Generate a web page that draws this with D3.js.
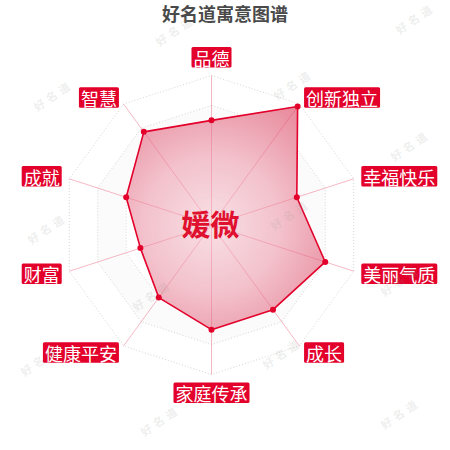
<!DOCTYPE html>
<html><head><meta charset="utf-8">
<script src="https://cdn.jsdelivr.net/npm/d3@7/dist/d3.min.js"></script>
<style>html,body{margin:0;padding:0;background:#fff;}svg{display:block;}</style>
</head><body><div id="chart"></div>
<script>
const indicators = ['品德','创新独立','幸福快乐','美丽气质','成长','家庭传承','健康平安','财富','成就','智慧'];
const values = [70, 98, 60, 80, 70, 70, 60, 50, 60, 77];
const maxValue = 100;
const levels = [20, 40, 60, 80, 100];
const titleText = '好名道寓意图谱';
const nameText = '媛微';
const watermarkText = '好名道';
const watermarkSpots = [[175,30],[415,18],[293,84],[53,95],[410,145],[47,228],[290,214],[400,280],[152,295],[40,360],[282,353],[160,420],[400,413]];

const W = 450, H = 450;
const cx = 211.5, cy = 225, R = 149.5;
const font = "'Noto Sans CJK SC','Noto Sans',sans-serif";
const svg = d3.select('#chart').append('svg').attr('width', W).attr('height', H);

const r = d3.scaleLinear().domain([0, maxValue]).range([0, R]);
const angle = d3.scaleLinear().domain([0, indicators.length]).range([0, 2 * Math.PI]);
const pt = (i, v) => [cx + r(v) * Math.sin(angle(i)), cy - r(v) * Math.cos(angle(i))];

const defs = svg.append('defs');
const grad = defs.append('radialGradient').attr('id', 'areaGrad')
  .attr('gradientUnits', 'userSpaceOnUse').attr('cx', cx).attr('cy', cy).attr('r', R);
grad.append('stop').attr('offset', '0%').attr('stop-color', '#f8dde3');
grad.append('stop').attr('offset', '45%').attr('stop-color', '#f2bdc8');
grad.append('stop').attr('offset', '100%').attr('stop-color', '#e57b90');

// split areas
const ring = (v) => indicators.map((d, i) => pt(i, v));
const lineGen = d3.line().curve(d3.curveLinearClosed);
levels.forEach((lv, k) => {
  if (k % 2 === 1) {
    const outer = ring(lv), inner = ring(levels[k - 1]);
    svg.append('path')
      .attr('d', lineGen(outer) + lineGen(inner.slice().reverse()))
      .attr('fill', 'rgba(200,200,200,0.08)').attr('fill-rule', 'evenodd');
  }
});
// grid
levels.forEach(lv => {
  svg.append('path').attr('d', lineGen(ring(lv)))
    .attr('fill', 'none').attr('stroke', '#d6d6d6').attr('stroke-width', 1)
    .attr('stroke-dasharray', '1,2');
});
// axes
indicators.forEach((d, i) => {
  const [x, y] = pt(i, maxValue);
  svg.append('line').attr('x1', cx).attr('y1', cy).attr('x2', x).attr('y2', y)
    .attr('stroke', 'rgba(228,0,43,0.28)').attr('stroke-width', 1);
});

// area
const dataPts = values.map((v, i) => pt(i, v));
svg.append('path').attr('d', lineGen(dataPts))
  .attr('fill', 'url(#areaGrad)').attr('fill-opacity', 0.92)
  .attr('stroke', '#e3002b').attr('stroke-width', 1.6).attr('stroke-linejoin', 'round');
indicators.forEach((d, i) => {
  const [x, y] = pt(i, values[i]);
  svg.append('line').attr('x1', cx).attr('y1', cy).attr('x2', x).attr('y2', y)
    .attr('stroke', 'rgba(228,0,43,0.15)').attr('stroke-width', 1);
});
svg.selectAll('circle.pt').data(values).enter().append('circle')
  .attr('class', 'pt')
  .attr('cx', (v, i) => pt(i, v)[0]).attr('cy', (v, i) => pt(i, v)[1])
  .attr('r', 3).attr('fill', '#e3002b');

// indicator labels
const fs = 18, padX = 2, boxH = 20.5;
indicators.forEach((name, i) => {
  const a = angle(i);
  const s = Math.sin(a), c = Math.cos(a);
  const px = cx + (R + 8) * s, py = cy - (R + 8) * c;
  const bw = name.length * fs + padX * 2;
  let bx, by;
  if (Math.abs(s) < 1e-6) {
    bx = px - bw / 2;
    by = c > 0 ? py - boxH : py;
  } else {
    bx = s > 0 ? px : px - bw;
    by = py - boxH / 2;
  }
  svg.append('rect').attr('x', bx).attr('y', by).attr('width', bw).attr('height', boxH)
    .attr('rx', 1.5).attr('fill', '#e3002b');
  svg.append('text').attr('x', bx + bw / 2).attr('y', by + boxH / 2 + 0.5)
    .attr('text-anchor', 'middle').attr('dominant-baseline', 'central')
    .attr('font-family', font).attr('font-size', fs).attr('fill', '#fff')
    .text(name);
});

// center name
svg.append('text').attr('x', 210.5).attr('y', 223)
  .attr('text-anchor', 'middle').attr('dominant-baseline', 'central')
  .attr('font-family', font).attr('font-weight', 'bold').attr('font-size', 29)
  .attr('fill', '#e0102f').text(nameText);

// title
svg.append('text').attr('x', 225).attr('y', 12.5)
  .attr('text-anchor', 'middle').attr('dominant-baseline', 'central')
  .attr('font-family', font).attr('font-weight', 'bold').attr('font-size', 18)
  .attr('fill', '#4a4a4a').text(titleText);

// watermarks
watermarkSpots.forEach(([x, y]) => {
  svg.append('text').attr('transform', `translate(${x},${y}) rotate(-34)`)
    .attr('text-anchor', 'middle').attr('dominant-baseline', 'central')
    .attr('font-family', font).attr('font-weight', 'bold').attr('font-size', 11)
    .attr('letter-spacing', 4)
    .attr('fill', '#999').attr('fill-opacity', 0.18).text(watermarkText);
});
</script></body></html>
